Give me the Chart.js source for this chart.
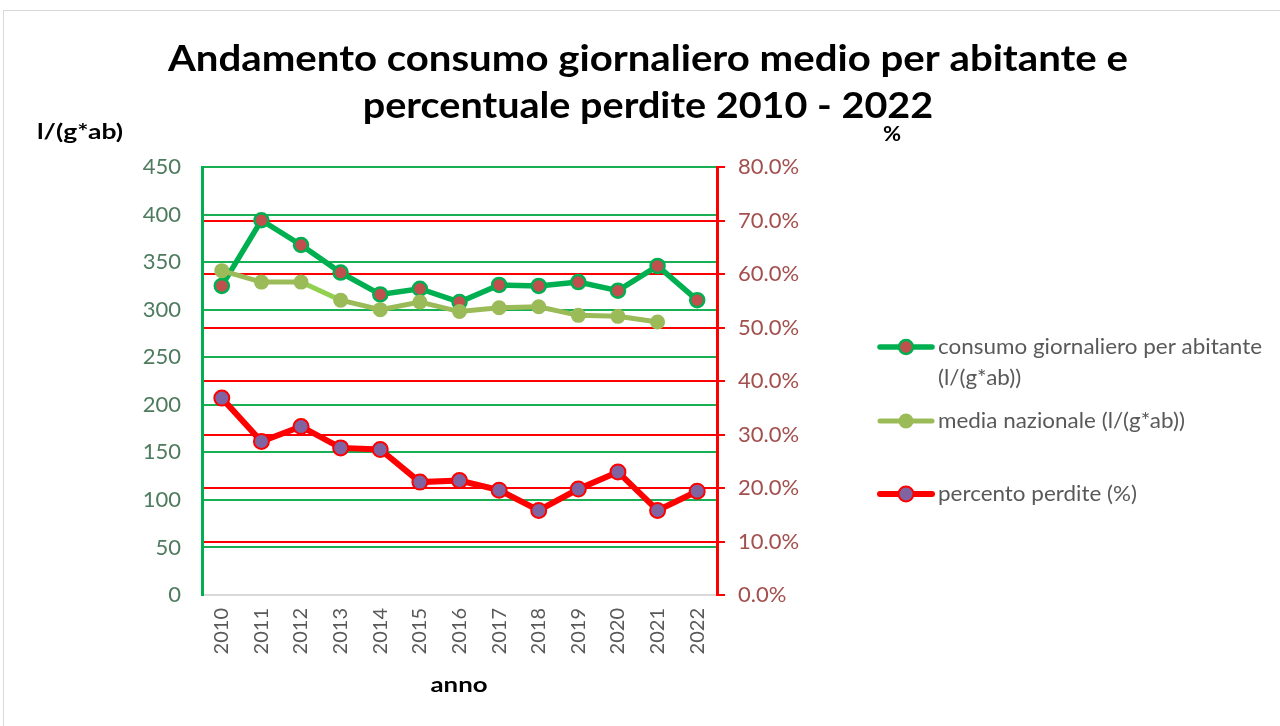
<!DOCTYPE html>
<html><head><meta charset="utf-8">
<script src="https://cdn.jsdelivr.net/npm/chart.js@4.4.1/dist/chart.umd.min.js"></script>
<style>html,body{margin:0;padding:0;background:#fff;overflow:hidden}</style>
</head><body>
<canvas id="c" width="1280" height="726" style="display:block;width:1280px;height:726px"></canvas>
<script>
const years = ['2010','2011','2012','2013','2014','2015','2016','2017','2018','2019','2020','2021','2022'];
const consumo = [325,394,368,339,316,322,308,326,325,329,320,346,310];
const mediaNazionale = [341,329,329,310,300,308,298,302,303,294,293,287,null];
const percentoPerdite = [36.8,28.7,31.5,27.5,27.2,21.1,21.4,19.6,15.8,19.8,23.0,15.8,19.4];
const seriesNames = ['consumo giornaliero per abitante (l/(g*ab))','media nazionale (l/(g*ab))','percento perdite (%)'];
const legendLines = [['consumo giornaliero per abitante','(l/(g*ab))'],['media nazionale (l/(g*ab))'],['percento perdite (%)']];
const titleLines = ['Andamento consumo giornaliero medio per abitante e','percentuale perdite 2010 - 2022'];
const leftAxisTitle = 'l/(g*ab)';
const rightAxisTitle = '%';
const xAxisTitle = 'anno';

const FONT = 'Lato';

function drawScaled(ctx, text, x, y, sx, align) {
  ctx.save();
  ctx.translate(x, y);
  ctx.scale(sx, 1);
  ctx.textAlign = align;
  ctx.fillText(text, 0, 0);
  ctx.restore();
}

const decor = {
  id: 'decor',
  beforeDraw(chart) {
    const ctx = chart.ctx;
    ctx.save();
    ctx.fillStyle = '#fff';
    ctx.fillRect(0,0,chart.width,chart.height);
    ctx.strokeStyle = '#D9D9D9';
    ctx.lineWidth = 1;
    ctx.strokeRect(3.5,10.5,1290,730);
    ctx.restore();
  },
  afterDraw(chart) {
    const ctx = chart.ctx;
    ctx.save();
    ctx.fillStyle = '#000';
    ctx.textBaseline = 'alphabetic';
    ctx.font = 'bold 37px ' + FONT;
    const tsx = 960 / ctx.measureText(titleLines[0]).width;
    drawScaled(ctx, titleLines[0], 648, 71, tsx, 'center');
    drawScaled(ctx, titleLines[1], 648, 118, tsx * 0.985, 'center');
    ctx.font = 'bold 21px ' + FONT;
    drawScaled(ctx, leftAxisTitle, 37, 139, 86 / ctx.measureText(leftAxisTitle).width, 'left');
    drawScaled(ctx, rightAxisTitle, 883, 141, 1.05, 'left');
    drawScaled(ctx, xAxisTitle, 459, 692, 57 / ctx.measureText(xAxisTitle).width, 'center');
    const ys = [347, 421, 494];
    chart.data.datasets.forEach((ds, i) => {
      const y = ys[i];
      ctx.strokeStyle = ds.borderColor;
      ctx.lineWidth = ds.borderWidth;
      ctx.lineCap = 'round';
      ctx.beginPath();
      ctx.moveTo(880, y); ctx.lineTo(932, y); ctx.stroke();
      ctx.beginPath();
      ctx.arc(906, y, ds.pointRadius, 0, Math.PI*2);
      ctx.fillStyle = ds.pointBackgroundColor;
      ctx.fill();
      if (ds.pointBorderWidth) {
        ctx.lineWidth = ds.pointBorderWidth;
        ctx.strokeStyle = ds.pointBorderColor;
        ctx.stroke();
      }
      ctx.fillStyle = '#595959';
      ctx.font = '22px ' + FONT;
      ctx.textBaseline = 'middle';
      legendLines[i].forEach((t, k) => drawScaled(ctx, t, 938, y + k*31, 1.02, 'left'));
    });
    ctx.restore();
  }
};

function build() {
  Chart.defaults.font.family = FONT;
  new Chart(document.getElementById('c'), {
    type: 'line',
    data: {
      labels: years,
      datasets: [
        { label: seriesNames[0], data: consumo, yAxisID: 'y', order: 2,
          borderColor: '#00B050', borderWidth: 5.5, tension: 0,
          pointBackgroundColor: '#C0504D', pointBorderColor: '#00B050', pointBorderWidth: 2.5, pointRadius: 7 },
        { label: seriesNames[1], data: mediaNazionale, yAxisID: 'y', order: 1,
          borderColor: '#9BBB59', borderWidth: 5, tension: 0,
          segment: { borderColor: c => c.p0DataIndex === 2 ? '#92D050' : undefined },
          pointBackgroundColor: '#9BBB59', pointBorderColor: '#9BBB59', pointBorderWidth: 0, pointRadius: 7.5 },
        { label: seriesNames[2], data: percentoPerdite, yAxisID: 'y1', order: 0,
          borderColor: '#FF0000', borderWidth: 6, tension: 0,
          pointBackgroundColor: '#8064A2', pointBorderColor: '#FF0000', pointBorderWidth: 2, pointRadius: 7.5 }
      ]
    },
    options: {
      responsive: false, animation: false, devicePixelRatio: 1,
      layout: { padding: { top: 167, left: 0, right: 0, bottom: 0 } },
      plugins: { legend: { display: false }, title: { display: false }, tooltip: { enabled: false } },
      scales: {
        x: {
          offset: true,
          grid: { display: false, drawTicks: false },
          border: { color: '#D9D9D9', width: 2 },
          ticks: { color: '#595959', font: { size: 20 }, minRotation: 90, maxRotation: 90, padding: 13, autoSkip: false },
          afterFit: s => { s.height = 131; }
        },
        y: {
          position: 'left', min: 0, max: 450,
          ticks: { stepSize: 50, color: '#4E7B5E', font: { size: 22 }, padding: 21 },
          grid: { color: c => c.tick && c.tick.value === 0 ? 'rgba(0,0,0,0)' : '#19B055', lineWidth: 2, drawTicks: false },
          border: { color: '#00B050', width: 3 },
          afterFit: s => { s.width = 202; }
        },
        y1: {
          position: 'right', min: 0, max: 80,
          ticks: { stepSize: 10, color: '#A24F4D', font: { size: 22 }, padding: 13, callback: v => v.toFixed(1) + '%' },
          grid: { color: c => c.tick && (c.tick.value === 0 || c.tick.value === 80) ? 'rgba(0,0,0,0)' : '#FF0000',
                  tickColor: '#FF0000', tickLength: 8, lineWidth: 2 },
          border: { color: '#FF0000', width: 3 },
          afterFit: s => { s.width = 1280 - 717; }
        }
      }
    },
    plugins: [decor]
  });
}
if (document.fonts && document.fonts.load) {
  Promise.all([document.fonts.load('20px Lato'), document.fonts.load('bold 20px Lato')]).then(build, build);
} else build();
</script>
</body></html>
